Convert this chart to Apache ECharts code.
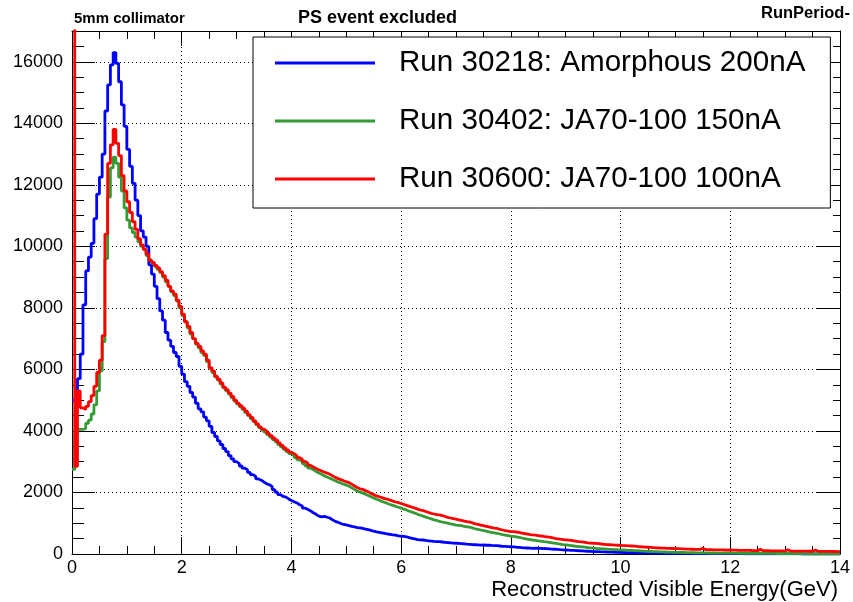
<!DOCTYPE html>
<html>
<head>
<meta charset="utf-8">
<script src="https://cdn.jsdelivr.net/npm/echarts@6/dist/echarts.min.js"></script>
<style>
  html, body { margin: 0; padding: 0; background: #fff; }
  #chart { width: 853px; height: 602px; }
</style>
</head>
<body>
<div id="chart"></div>
<script>
// Visible energy spectra, 0.05 GeV bins from 0 to 14 GeV (280 bins per run)
const binWidth = 0.05;
const xMin = 0, xMax = 14, xMajor = 2, xMinor = 0.5;
const yMin = 0, yMax = 17000, yMajor = 2000, yMinor = 500;

const seriesNames = [
  'Run 30218: Amorphous 200nA',
  'Run 30402: JA70-100 150nA',
  'Run 30600: JA70-100 100nA'
];
const seriesColors = ['#0000ff', '#349a34', '#ff0000'];

const amorphous200 = [
  5000, 5000, 5700, 6500, 8100, 9200, 9650, 10100, 10900, 11700, 12250, 13000, 14400, 15250, 15900, 16300, 15950, 15350, 14600, 13900,
  13150, 12600, 12050, 11500, 11000, 10500, 10300, 10000, 9400, 9100, 8700, 8300, 7900, 7600, 7200, 6950, 6750, 6550, 6420, 6100,
  5850, 5600, 5450, 5250, 5100, 4900, 4720, 4620, 4450, 4330, 4150, 3950, 3820, 3680, 3560, 3430, 3330, 3200, 3090, 3000,
  2940, 2860, 2790, 2740, 2650, 2580, 2520, 2440, 2400, 2340, 2280, 2250, 2190, 2090, 2010, 1930, 1870, 1850, 1790, 1740,
  1700, 1660, 1600, 1560, 1490, 1450, 1400, 1340, 1290, 1230, 1210, 1225, 1195, 1170, 1110, 1060, 1030, 990, 960, 945,
  925, 900, 880, 860, 850, 830, 810, 790, 765, 740, 720, 705, 690, 670, 650, 640, 620, 610, 590, 580,
  570, 560, 530, 510, 490, 470, 460, 455, 440, 430, 420, 410, 405, 400, 390, 380, 370, 365, 355, 350,
  345, 340, 330, 320, 315, 305, 300, 295, 290, 292, 285, 290, 280, 275, 270, 260, 250, 245, 240, 235,
  230, 220, 215, 205, 200, 195, 190, 185, 188, 180, 182, 178, 175, 168, 160, 155, 148, 140, 135, 130,
  125, 120, 115, 110, 105, 100, 95, 90, 85, 80, 78, 75, 72, 68, 65, 60, 58, 55, 52, 50,
  48, 46, 44, 42, 40, 38, 36, 35, 34, 32, 30, 30, 28, 27, 26, 25, 24, 23, 22, 21,
  20, 20, 19, 18, 18, 17, 16, 16, 15, 15, 14, 14, 13, 13, 12, 12, 11, 11, 10, 10,
  10, 9, 9, 9, 8, 8, 8, 7, 7, 7, 6, 6, 6, 5, 5, 5, 5, 4, 4, 4,
  3, 3, 3, 2, 2, 0, 0, 0, 0, 0, 0, 0, 0, 0, 0, 0, 0, 0, 0, 0
];

const ja150 = [
  2750, 3900, 4050, 4050, 4080, 4250, 4350, 4550, 4850, 5300, 5950, 6900, 9600, 11600, 12550, 12900, 12700, 12250, 11800, 11250,
  10850, 10600, 10450, 10300, 10150, 10000, 9900, 9700, 9560, 9450, 9350, 9250, 9150, 9000, 8850, 8700, 8520, 8400, 8220, 8000,
  7750, 7550, 7350, 7150, 7000, 6820, 6700, 6550, 6450, 6250, 6050, 5900, 5750, 5650, 5520, 5400, 5300, 5200, 5080, 4970,
  4880, 4790, 4700, 4600, 4500, 4400, 4300, 4200, 4110, 4030, 3960, 3880, 3800, 3720, 3650, 3560, 3480, 3400, 3330, 3260,
  3200, 3130, 3060, 3000, 2930, 2860, 2790, 2740, 2680, 2630, 2590, 2540, 2500, 2460, 2420, 2380, 2340, 2310, 2270, 2240,
  2200, 2150, 2100, 2050, 2010, 1980, 1940, 1900, 1860, 1820, 1780, 1750, 1710, 1680, 1640, 1610, 1580, 1550, 1520, 1490,
  1460, 1430, 1390, 1360, 1330, 1290, 1260, 1230, 1200, 1170, 1140, 1110, 1090, 1060, 1040, 1020, 1000, 980, 960, 940,
  930, 920, 900, 885, 870, 850, 820, 800, 780, 760, 740, 720, 700, 685, 670, 650, 630, 615, 600, 580,
  570, 555, 540, 520, 500, 485, 470, 455, 445, 430, 420, 405, 395, 380, 365, 350, 335, 320, 305, 295,
  285, 275, 260, 250, 240, 230, 220, 210, 200, 190, 185, 178, 170, 165, 160, 152, 148, 142, 138, 135,
  130, 125, 120, 115, 110, 105, 100, 95, 90, 86, 82, 78, 75, 72, 68, 65, 62, 60, 57, 55,
  52, 50, 48, 46, 44, 42, 40, 38, 37, 36, 35, 34, 33, 32, 31, 30, 30, 29, 28, 28,
  27, 26, 26, 25, 24, 24, 23, 22, 22, 21, 20, 20, 19, 19, 18, 18, 17, 17, 16, 16,
  15, 15, 14, 14, 13, 12, 0, 0, 0, 0, 0, 0, 0, 0, 0, 0, 0, 0, 0, 0
];

const ja100 = [
  18500, 2850, 5300, 4750, 4700, 4800, 4950, 5150, 5450, 5900, 6300, 7100, 10400, 12700, 13300, 13800, 13350, 12950, 12300, 11800,
  11450, 11100, 10800, 10550, 10250, 10050, 9900, 9750, 9550, 9480, 9380, 9300, 9180, 9050, 8900, 8700, 8550, 8450, 8250, 8050,
  7800, 7550, 7400, 7200, 7000, 6850, 6750, 6600, 6500, 6300, 6050, 5950, 5780, 5680, 5560, 5420, 5340, 5230, 5120, 5000,
  4900, 4820, 4740, 4640, 4530, 4440, 4330, 4230, 4130, 4060, 4000, 3920, 3850, 3770, 3700, 3610, 3530, 3450, 3380, 3310,
  3260, 3200, 3130, 3080, 3010, 2950, 2880, 2830, 2780, 2740, 2700, 2660, 2630, 2590, 2540, 2490, 2450, 2420, 2380, 2350,
  2320, 2270, 2210, 2160, 2120, 2100, 2060, 2020, 1970, 1930, 1890, 1860, 1830, 1800, 1780, 1750, 1720, 1690, 1670, 1640,
  1610, 1580, 1550, 1520, 1490, 1460, 1430, 1410, 1380, 1350, 1320, 1300, 1280, 1270, 1250, 1220, 1190, 1170, 1150, 1130,
  1110, 1090, 1070, 1050, 1040, 1010, 980, 960, 940, 920, 900, 880, 860, 840, 830, 800, 780, 760, 745, 730,
  725, 715, 700, 680, 665, 650, 630, 620, 615, 600, 585, 570, 560, 550, 530, 510, 495, 480, 470, 460,
  450, 440, 425, 410, 400, 395, 380, 365, 355, 350, 345, 335, 325, 315, 305, 300, 295, 290, 285, 280,
  275, 270, 265, 260, 255, 245, 235, 230, 225, 220, 215, 210, 200, 195, 190, 188, 185, 180, 178, 175,
  172, 168, 165, 160, 158, 155, 152, 150, 148, 190, 143, 140, 140, 137, 135, 133, 132, 130, 128, 130,
  128, 125, 122, 120, 118, 116, 115, 113, 112, 110, 150, 108, 106, 105, 104, 103, 102, 101, 100, 100,
  140, 97, 96, 95, 94, 93, 92, 91, 90, 89, 130, 87, 86, 85, 84, 83, 82, 81, 80, 80
];

const runs = [amorphous200, ja150, ja100];

// Turn bin contents into step-line points: left edge of each bin, plus the closing edge
function histPoints(counts) {
  const pts = counts.map((c, i) => [+(i * binWidth).toFixed(2), c]);
  pts.push([+(counts.length * binWidth).toFixed(2), counts[counts.length - 1]]);
  return pts;
}

const FONT = '"Liberation Sans", Arial, Helvetica, sans-serif';
const black = '#000';

function xAxisDef(position, interval, tickLen, opts) {
  return Object.assign({
    type: 'value', min: xMin, max: xMax, interval: interval, position: position,
    axisLine: { show: false, onZero: false },
    axisTick: { show: true, inside: true, length: tickLen, lineStyle: { color: black, width: 1 } },
    axisLabel: { show: false },
    splitLine: { show: false }
  }, opts || {});
}
function yAxisDef(position, interval, tickLen, opts) {
  return Object.assign({
    type: 'value', min: yMin, max: yMax, interval: interval, position: position,
    axisLine: { show: false, onZero: false },
    axisTick: { show: true, inside: true, length: tickLen, lineStyle: { color: black, width: 1 } },
    axisLabel: { show: false },
    splitLine: { show: false }
  }, opts || {});
}

const chart = echarts.init(document.getElementById('chart'), null, { renderer: 'canvas' });

chart.setOption({
  animation: false,
  backgroundColor: '#fff',
  grid: { left: 72, right: 13, top: 31, bottom: 48, containLabel: false },
  xAxis: [
    xAxisDef('bottom', xMajor, 17, {
      axisLine: { show: true, onZero: false, lineStyle: { color: black, width: 1 } },
      axisLabel: { show: true, color: black, fontSize: 18, fontFamily: FONT, margin: 5 },
      splitLine: { show: true, lineStyle: { color: black, width: 1, type: [1, 3] } }
    }),
    xAxisDef('bottom', xMinor, 8),
    xAxisDef('top', xMajor, 15, {
      axisLine: { show: true, onZero: false, lineStyle: { color: black, width: 1 } }
    }),
    xAxisDef('top', xMinor, 8)
  ],
  yAxis: [
    yAxisDef('left', yMajor, 23, {
      axisLine: { show: true, onZero: false, lineStyle: { color: black, width: 1 } },
      axisLabel: {
        show: true, color: black, fontSize: 18, fontFamily: FONT, margin: 9, showMaxLabel: false,
        formatter: v => String(v)
      },
      splitLine: { show: true, lineStyle: { color: black, width: 1, type: [1, 3] } }
    }),
    yAxisDef('left', yMinor, 12),
    yAxisDef('right', yMajor, 23, {
      axisLine: { show: true, onZero: false, lineStyle: { color: black, width: 1 } }
    }),
    yAxisDef('right', yMinor, 7)
  ],
  legend: {
    orient: 'vertical',
    left: 253, top: 37,
    backgroundColor: '#fff',
    borderColor: black, borderWidth: 1,
    padding: [11, 25, 14, 22],
    itemWidth: 100, itemHeight: 3, itemGap: 28,
    icon: 'rect',
    selectedMode: false,
    textStyle: { fontSize: 29.6, color: black, fontFamily: FONT, padding: [0, 0, 0, 19] },
    data: seriesNames
  },
  series: runs.map((counts, k) => ({
    name: seriesNames[k],
    type: 'line',
    step: 'end',
    xAxisIndex: 0, yAxisIndex: 0,
    showSymbol: false,
    clip: true,
    color: seriesColors[k],
    lineStyle: { color: seriesColors[k], width: 2.8 },
    data: histPoints(counts),
    z: 2 + k
  })),
  graphic: [
    { type: 'text', left: 74, top: 11, style: { text: '5mm collimator', fill: black, font: 'bold 15px ' + FONT } },
    { type: 'text', left: 298, top: 9, style: { text: 'PS event excluded', fill: black, font: 'bold 18px ' + FONT } },
    { type: 'text', left: 761, top: 5, style: { text: 'RunPeriod-', fill: black, font: 'bold 16.5px ' + FONT } },
    { type: 'text', right: 15, top: 579, style: { text: 'Reconstructed Visible Energy(GeV)', fill: black, font: '22px ' + FONT } }
  ]
});
</script>
</body>
</html>
